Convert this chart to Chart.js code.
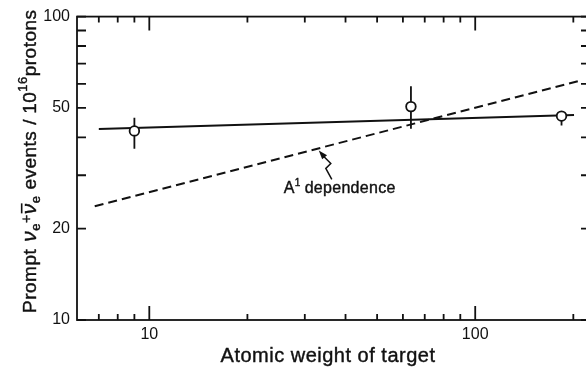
<!DOCTYPE html>
<html>
<head>
<meta charset="utf-8">
<script src="https://cdn.jsdelivr.net/npm/chart.js@4.4.0/dist/chart.umd.min.js"></script>
<style>
  html, body { margin: 0; padding: 0; background: #fff; overflow: hidden; }
  canvas { display: block; }
</style>
</head>
<body>
<canvas id="chart" width="600" height="371"></canvas>
<script>
// measured targets: atomic weight and prompt events per 1e16 protons
const targetA = [9, 63.5, 184];
const events = [42, 50.5, 47];
const errLow = [36.7, 42.7, 43.8];
const errHigh = [46.4, 58.9, 48.5];

// straight line through the measurements
const fitA = [7, 201];
const fitEvents = [42.6, 47.4];

// A^1 dependence (dashed)
const depA = [6.8, 211];
const depEvents = [23.7, 61.6];

// ticks
const xLabelTicks = [10, 100];
const xMinorTicks = [7, 8, 9, 20, 30, 40, 50, 60, 70, 80, 90, 200];
const yLabelTicks = [10, 20, 50, 100];
const yMinorTicks = [30, 40, 60, 70, 80, 90];

const FONT = '"Liberation Sans", Arial, sans-serif';
const INK = '#111';

function toXY(xs, ys) {
  return xs.map((v, i) => ({ x: v, y: ys[i] }));
}

// draws a run of text pieces left to right from (0,0), baseline 0
function drawRun(ctx, parts) {
  let cx = 0;
  parts.forEach(p => {
    ctx.font = (p.italic ? 'italic ' : '') + p.size + 'px ' + FONT;
    const w = ctx.measureText(p.t).width;
    const dy = p.dy || 0;
    ctx.fillText(p.t, cx, dy);
    ctx.strokeText(p.t, cx, dy);
    if (p.bar) ctx.fillRect(cx + 1, dy - p.size * 0.72, w - 1, 1.6);
    cx += w + (p.gap || 0);
  });
  return cx;
}

const frame = {
  id: 'frame',
  beforeDatasetsDraw(chart) {
    const { ctx, chartArea: a, scales: { x, y } } = chart;
    ctx.save();
    ctx.strokeStyle = INK;
    ctx.lineWidth = 1.8;
    ctx.strokeRect(a.left, a.top, a.right - a.left, a.bottom - a.top);

    ctx.beginPath();
    const xt = xLabelTicks.map(v => [v, 14]).concat(xMinorTicks.map(v => [v, 6]));
    xt.forEach(([v, len]) => {
      const px = x.getPixelForValue(v);
      ctx.moveTo(px, a.bottom); ctx.lineTo(px, a.bottom - len);
      ctx.moveTo(px, a.top); ctx.lineTo(px, a.top + len);
    });
    yLabelTicks.concat(yMinorTicks).forEach(v => {
      const py = y.getPixelForValue(v);
      ctx.moveTo(a.left, py); ctx.lineTo(a.left + 9, py);
      ctx.moveTo(a.right, py); ctx.lineTo(a.right - 9, py);
    });
    ctx.stroke();

    // error bars
    ctx.lineWidth = 1.8;
    ctx.beginPath();
    targetA.forEach((v, i) => {
      const px = x.getPixelForValue(v);
      ctx.moveTo(px, y.getPixelForValue(errLow[i]));
      ctx.lineTo(px, y.getPixelForValue(errHigh[i]));
    });
    ctx.stroke();
    ctx.restore();
  },
  afterDraw(chart) {
    const { ctx, chartArea: a, scales: { x, y } } = chart;
    ctx.save();
    ctx.fillStyle = INK;
    ctx.strokeStyle = INK;
    ctx.lineWidth = 0.4;
    ctx.textBaseline = 'alphabetic';

    // x title
    if ('letterSpacing' in ctx) ctx.letterSpacing = '0.5px';
    ctx.font = '20px ' + FONT;
    ctx.textAlign = 'center';
    ctx.fillText('Atomic weight of target', 328, 362);
    ctx.strokeText('Atomic weight of target', 328, 362);
    ctx.textAlign = 'left';

    // y title, rotated
    ctx.save();
    ctx.translate(36, 313);
    ctx.rotate(-Math.PI / 2);
    drawRun(ctx, [
      { t: 'Prompt', size: 19, gap: 7 },
      { t: 'ν', size: 21, italic: true },
      { t: 'e', size: 13, dy: 4 },
      { t: '+', size: 14, dy: -5 },
      { t: 'ν', size: 21, italic: true, bar: true },
      { t: 'e', size: 13, dy: 4, gap: 6 },
      { t: 'events', size: 19, gap: 6 },
      { t: '/', size: 19, gap: 5 },
      { t: '10', size: 19 },
      { t: '16', size: 13, dy: -9 },
      { t: 'protons', size: 19 }
    ]);
    ctx.restore();

    // annotation pointing at the dashed line
    const la = Math.log10(33);
    const l0 = Math.log10(depA[0]), l1 = Math.log10(depA[1]);
    const f = (la - l0) / (l1 - l0);
    const ly = Math.log10(depEvents[0]) + f * (Math.log10(depEvents[1]) - Math.log10(depEvents[0]));
    const tx = x.getPixelForValue(33) + 0.5;
    const ty = y.getPixelForValue(Math.pow(10, ly)) + 2;

    ctx.lineWidth = 1.5;
    ctx.beginPath();
    ctx.moveTo(tx + 13, ty + 29);
    ctx.lineTo(tx + 7, ty + 18);
    ctx.lineTo(tx + 12, ty + 13);
    ctx.lineTo(tx + 3, ty + 4);
    ctx.stroke();
    // arrow head
    const ang = Math.atan2(-13, -11);
    ctx.beginPath();
    ctx.moveTo(tx, ty);
    ctx.lineTo(tx - 9 * Math.cos(ang) + 3.2 * Math.sin(ang), ty - 9 * Math.sin(ang) - 3.2 * Math.cos(ang));
    ctx.lineTo(tx - 9 * Math.cos(ang) - 3.2 * Math.sin(ang), ty - 9 * Math.sin(ang) + 3.2 * Math.cos(ang));
    ctx.closePath();
    ctx.fill();

    ctx.save();
    ctx.lineWidth = 0.4;
    ctx.translate(tx - 35, ty + 43);
    if ('letterSpacing' in ctx) ctx.letterSpacing = '0.3px';
    drawRun(ctx, [
      { t: 'A', size: 16 },
      { t: '1', size: 10, dy: -7, gap: 4 },
      { t: 'dependence', size: 16 }
    ]);
    ctx.restore();
    ctx.restore();
  }
};

new Chart(document.getElementById('chart').getContext('2d'), {
  type: 'line',
  data: {
    datasets: [
      {
        label: 'Measured',
        data: toXY(targetA, events),
        showLine: false,
        pointRadius: 4.8,
        pointBackgroundColor: '#fff',
        pointBorderColor: INK,
        pointBorderWidth: 1.8
      },
      {
        label: 'Fit',
        data: toXY(fitA, fitEvents),
        borderColor: INK,
        borderWidth: 1.9,
        pointRadius: 0
      },
      {
        label: 'A dependence',
        data: toXY(depA, depEvents),
        borderColor: INK,
        borderWidth: 2,
        borderDash: [9, 5],
        pointRadius: 0
      }
    ]
  },
  options: {
    responsive: false,
    animation: false,
    devicePixelRatio: 1,
    layout: { padding: { top: 13, right: 10, left: 0, bottom: 0 } },
    plugins: { legend: { display: false }, tooltip: { enabled: false } },
    scales: {
      x: {
        type: 'logarithmic',
        min: 6,
        max: 225,
        grid: { display: false, drawTicks: false },
        border: { display: false },
        afterBuildTicks: s => { s.ticks = xLabelTicks.map(v => ({ value: v })); },
        afterFit: s => { s.height = 51; },
        ticks: {
          color: INK,
          padding: 5,
          maxRotation: 0,
          font: { family: FONT, size: 16 },
          callback: v => String(v)
        }
      },
      y: {
        type: 'logarithmic',
        min: 10,
        max: 100,
        grid: { display: false, drawTicks: false },
        border: { display: false },
        afterBuildTicks: s => { s.ticks = yLabelTicks.map(v => ({ value: v })); },
        afterFit: s => { s.width = 77; },
        ticks: {
          color: INK,
          padding: 7,
          font: { family: FONT, size: 16 },
          callback: v => String(v)
        }
      }
    }
  },
  plugins: [frame]
});
</script>
</body>
</html>
